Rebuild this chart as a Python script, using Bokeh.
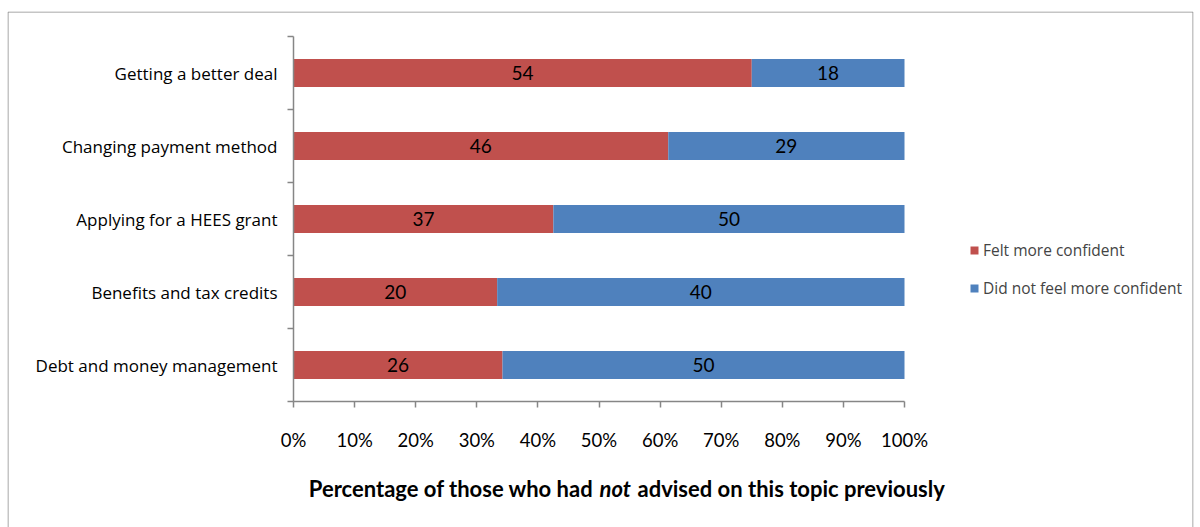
from bokeh.plotting import figure
from bokeh.models import ColumnDataSource, FixedTicker, Legend, LegendItem, LabelSet, Label, NumeralTickFormatter
from bokeh.core.properties import value
from bokeh.embed import file_html
from bokeh.resources import INLINE

categories = ["Debt and money management", "Benefits and tax credits", "Applying for a HEES grant",
              "Changing payment method", "Getting a better deal"]
felt_more = [26, 20, 37, 46, 54]
did_not = [50, 40, 50, 29, 18]
series_names = ["Felt more confident", "Did not feel more confident"]
x_ticks = [0.0, 0.1, 0.2, 0.3, 0.4, 0.5, 0.6, 0.7, 0.8, 0.9, 1.0]
x_title_parts = ["Percentage of those who had", "not", "advised on this topic previously"]

RED = "#C0504D"
BLUE = "#4F81BD"
AX = "#868686"
FONT = "Open Sans"
NUMF = "Lato"

# ---- pixel geometry (layout only) ----
W, H = 1200, 527
BOX_L, BOX_T, BOX_R = 7, 11, 1193          # outer chart border
X0_PX, X1_PX = 293, 904                    # 0% and 100%
YTOP_PX, YBOT_PX = 36, 401                 # top and bottom of category axis
n = len(categories)
sx = (X1_PX - X0_PX)
sy = (YBOT_PX - YTOP_PX) / n
x_start = (BOX_L - X0_PX) / sx
x_end = (BOX_R - X0_PX) / sx
y_end = n + (YTOP_PX - BOX_T) / sy
y_start = -(H - YBOT_PX) / sy

def xd(px):
    return (px - X0_PX) / sx

def yd(py):
    return (YBOT_PX - py) / sy

ypos = [i + 0.5 for i in range(n)]
tot = [a + b for a, b in zip(felt_more, did_not)]
share_a = [a / t for a, t in zip(felt_more, tot)]
src = ColumnDataSource(dict(
    y=ypos, a0=[0] * n, a1=share_a, b1=[1] * n,
    amid=[s / 2 for s in share_a], bmid=[(s + 1) / 2 for s in share_a],
    la=[str(v) for v in felt_more], lb=[str(v) for v in did_not],
))

p = figure(width=W, height=H, output_backend="svg", toolbar_location=None,
           x_range=(x_start, x_end), y_range=(y_start, y_end),
           min_border_left=BOX_L, min_border_right=W - BOX_R, min_border_top=BOX_T, min_border_bottom=0)
p.outline_line_color = None
p.xgrid.visible = False
p.ygrid.visible = False

# outer chart border (open at the bottom, as the page cuts it off)
p.line(x=[xd(BOX_L + 0.5), xd(BOX_L + 0.5), xd(BOX_R - 0.5), xd(BOX_R - 0.5)],
       y=[yd(H + 5), yd(BOX_T + 0.5), yd(BOX_T + 0.5), yd(H + 5)],
       line_color="#8c8c8c", line_width=1)

h = 28 / sy
ra = p.hbar(y="y", left="a0", right="a1", height=h, fill_color=RED, line_color=None, source=src)
rb = p.hbar(y="y", left="a1", right="b1", height=h, fill_color=BLUE, line_color=None, source=src)

for col, xcol in (("la", "amid"), ("lb", "bmid")):
    p.add_layout(LabelSet(x=xcol, y="y", text=col, source=src, text_align="center",
                          text_baseline="middle", text_font=value(NUMF), text_font_size="19px",
                          text_color="black"))

ya = p.yaxis[0]
ya.fixed_location = 0
ya.bounds = (0, n)
ya.ticker = FixedTicker(ticks=ypos, minor_ticks=list(range(n + 1)))
ya.major_label_overrides = {y: c for y, c in zip(ypos, categories)}
ya.major_tick_line_color = None
ya.major_tick_out = 0
ya.major_tick_in = 0
ya.minor_tick_out = 6
ya.minor_tick_in = 0
ya.minor_tick_line_color = AX
ya.minor_tick_line_width = 1.5
ya.axis_line_color = AX
ya.axis_line_width = 1.5
ya.major_label_standoff = 10
ya.major_label_text_font = FONT
ya.major_label_text_font_size = "17px"
ya.major_label_text_color = "black"

xa = p.xaxis[0]
xa.fixed_location = 0
xa.bounds = (0, 1)
xa.ticker = FixedTicker(ticks=x_ticks, minor_ticks=[])
xa.formatter = NumeralTickFormatter(format="0%")
xa.major_tick_out = 6
xa.major_tick_in = 0
xa.major_tick_line_color = AX
xa.major_tick_line_width = 1.5
xa.axis_line_color = AX
xa.axis_line_width = 1.5
xa.major_label_standoff = 21
xa.major_label_text_font = NUMF
xa.major_label_text_font_size = "18.5px"
xa.major_label_text_color = "black"

# axis title in three pieces (middle word in italics)
ty = yd(488)
TF = "Lato"
TS = "22px"
p.add_layout(Label(x=xd(593), y=ty, text=x_title_parts[0], text_align="right",
                   text_baseline="middle", text_font=TF, text_font_style="bold",
                   text_font_size=TS, text_color="black"))
p.add_layout(Label(x=xd(599), y=ty, text=x_title_parts[1], text_align="left",
                   text_baseline="middle", text_font=TF, text_font_style="bold italic",
                   text_font_size=TS, text_color="black"))
p.add_layout(Label(x=xd(637), y=ty, text=x_title_parts[2], text_align="left",
                   text_baseline="middle", text_font=TF, text_font_style="bold",
                   text_font_size=TS, text_color="black"))

legend = Legend(items=[LegendItem(label=series_names[0], renderers=[ra]),
                       LegendItem(label=series_names[1], renderers=[rb])],
                location=(969 - BOX_L, H - 299), padding=0, margin=0, spacing=16,
                glyph_width=10, glyph_height=10, label_height=20, label_standoff=4,
                label_text_font=FONT, label_text_font_size="15.5px",
                border_line_color=None, background_fill_alpha=0)
p.add_layout(legend, "center")

open("out.html", "w").write(file_html(p, INLINE))
